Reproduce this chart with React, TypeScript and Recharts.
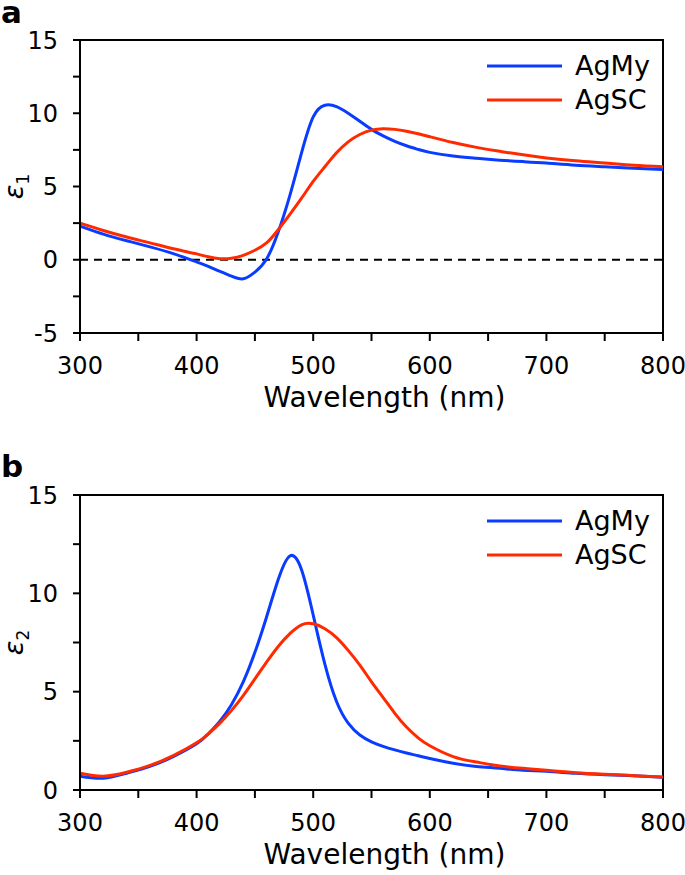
import React from 'react';
import { LineChart, Line, XAxis, YAxis, ReferenceLine, ReferenceArea, Legend } from 'recharts';

// Wavelength grid (nm)
const wavelengths = [300, 320, 340, 360, 380, 400, 410, 420, 430, 440, 450, 460, 470, 480, 490, 500, 510, 520, 530, 540, 550, 560, 570, 580, 590, 600, 620, 640, 660, 680, 700, 725, 750, 775, 800];

// Panel a: real part epsilon_1
const agMyEps1 = [2.3, 1.75, 1.3, 0.88, 0.42, -0.15, -0.45, -0.8, -1.12, -1.3, -0.85, 0.05, 1.9, 4.4, 7.3, 9.75, 10.55, 10.45, 10.0, 9.45, 8.9, 8.45, 8.08, 7.78, 7.53, 7.33, 7.08, 6.93, 6.8, 6.7, 6.6, 6.45, 6.35, 6.25, 6.15];
const agScEps1 = [2.5, 2.0, 1.55, 1.15, 0.75, 0.4, 0.2, 0.07, 0.1, 0.3, 0.65, 1.15, 2.05, 3.1, 4.2, 5.35, 6.35, 7.3, 8.05, 8.55, 8.85, 8.95, 8.9, 8.77, 8.6, 8.4, 8.0, 7.67, 7.4, 7.16, 6.95, 6.75, 6.6, 6.45, 6.35];

// Panel b: imaginary part epsilon_2
const agMyEps2 = [0.7, 0.6, 0.85, 1.2, 1.7, 2.35, 2.85, 3.5, 4.35, 5.5, 7.0, 8.8, 10.7, 11.9, 11.2, 8.9, 6.4, 4.5, 3.4, 2.8, 2.45, 2.22, 2.04, 1.88, 1.74, 1.6, 1.36, 1.2, 1.1, 1.0, 0.95, 0.85, 0.78, 0.72, 0.65];
const agScEps2 = [0.85, 0.7, 0.9, 1.25, 1.75, 2.4, 2.85, 3.4, 4.05, 4.8, 5.65, 6.5, 7.3, 7.95, 8.4, 8.45, 8.2, 7.75, 7.1, 6.35, 5.5, 4.7, 3.9, 3.2, 2.65, 2.25, 1.7, 1.42, 1.22, 1.1, 1.0, 0.88, 0.8, 0.73, 0.66];

const seriesNames = ['AgMy', 'AgSC'];
const xTicks = [300, 350, 400, 450, 500, 550, 600, 650, 700, 750, 800];
const yTicksA = [-5, -2.5, 0, 2.5, 5, 7.5, 10, 12.5, 15];
const yTicksB = [0, 2.5, 5, 7.5, 10, 12.5, 15];
const xTitle = 'Wavelength (nm)';

const BLUE = '#0a3cff';
const RED = '#ff2a00';
const FONT = '"DejaVu Sans", sans-serif';

const dataA = wavelengths.map((wl, i) => ({ wl, agMy: agMyEps1[i], agSc: agScEps1[i] }));
const dataB = wavelengths.map((wl, i) => ({ wl, agMy: agMyEps2[i], agSc: agScEps2[i] }));

function XTick(props: any) {
  const { x, y, payload } = props;
  if (payload.value % 100 !== 0) return <g />;
  return (
    <text x={x} y={y} dy={17} textAnchor="middle" fontFamily={FONT} fontSize={24} fill="#000">
      {payload.value}
    </text>
  );
}

function YTick(props: any) {
  const { x, y, payload } = props;
  if (payload.value % 5 !== 0) return <g />;
  return (
    <text x={x} y={y} dy={8.5} textAnchor="end" fontFamily={FONT} fontSize={24} fill="#000">
      {payload.value}
    </text>
  );
}

function XTitle(props: any) {
  const vb = props.viewBox || { x: 80, y: 333, width: 583, height: 80 };
  const cx = vb.x + vb.width / 2 + 13;
  return (
    <text x={cx} y={vb.y + 74} textAnchor="middle" fontFamily={FONT} fontSize={28} fill="#000">
      {xTitle}
    </text>
  );
}

function YTitle(props: any) {
  const vb = props.viewBox || { x: 0, y: 40, width: 80, height: 293 };
  const cy = vb.y + vb.height / 2;
  const x = 23;
  return (
    <text transform={`rotate(-90 ${x} ${cy})`} x={x} y={cy} textAnchor="middle" fontFamily={FONT} fontSize={27} fill="#000">
      <tspan fontStyle="italic">ε</tspan>
      <tspan fontSize={17} dy={6}>{props.sub}</tspan>
    </text>
  );
}

function LegendBox(props: any) {
  const items = props.payload || [];
  return (
    <div style={{ display: 'flex', flexDirection: 'column' }}>
      {items.map((it: any) => (
        <div key={it.value} style={{ display: 'flex', alignItems: 'center', height: 34 }}>
          <svg width={75} height={6} style={{ display: 'block' }}>
            <line x1={0} x2={75} y1={3} y2={3} stroke={it.color} strokeWidth={3} />
          </svg>
          <span style={{ marginLeft: 13, fontFamily: FONT, fontSize: 27, lineHeight: '34px', color: '#000' }}>
            {it.value}
          </span>
        </div>
      ))}
    </div>
  );
}

function Panel(props: { data: any[]; height: number; bottom: number; xAxisHeight: number; yDomain: [number, number]; yTicks: number[]; sub: string; zeroLine: boolean }) {
  const { data, height, bottom, xAxisHeight, yDomain, yTicks, sub, zeroLine } = props;
  return (
    <LineChart width={685} height={height} data={data} margin={{ top: 40, right: 22, bottom, left: 0 }}>
      <XAxis
        dataKey="wl"
        type="number"
        domain={[300, 800]}
        ticks={xTicks}
        interval={0}
        height={xAxisHeight}
        tickSize={8}
        tickMargin={16}
        axisLine={{ stroke: '#000', strokeWidth: 2 }}
        tickLine={{ stroke: '#000', strokeWidth: 2 }}
        tick={<XTick />}
        label={{ content: (p: any) => <XTitle {...p} /> }}
      />
      <YAxis
        type="number"
        domain={yDomain}
        ticks={yTicks}
        interval={0}
        width={80}
        tickSize={7}
        tickMargin={15}
        axisLine={{ stroke: '#000', strokeWidth: 2 }}
        tickLine={{ stroke: '#000', strokeWidth: 2 }}
        tick={<YTick />}
        label={{ content: (p: any) => <YTitle {...p} sub={sub} /> }}
      />
      <ReferenceArea x1={300} x2={800} y1={yDomain[0]} y2={yDomain[1]} fill="none" fillOpacity={0} stroke="#000" strokeWidth={2} />
      {zeroLine && <ReferenceLine y={0} stroke="#000" strokeWidth={2} strokeDasharray="8 6" />}
      <Legend
        layout="vertical"
        align="center"
        verticalAlign="middle"
        wrapperStyle={{ position: 'absolute', top: 49, left: 487, width: 190, height: 68 }}
        content={(p: any) => <LegendBox {...p} />}
      />
      <Line type="natural" dataKey="agMy" name={seriesNames[0]} stroke={BLUE} strokeWidth={3} dot={false} activeDot={false} isAnimationActive={false} legendType="line" />
      <Line type="natural" dataKey="agSc" name={seriesNames[1]} stroke={RED} strokeWidth={3} dot={false} activeDot={false} isAnimationActive={false} legendType="line" />
    </LineChart>
  );
}

export default function App() {
  return (
    <div style={{ position: 'absolute', left: 0, top: 0, width: 685, height: 875, background: '#fff', overflow: 'hidden' }}>
      <div style={{ position: 'absolute', left: 0, top: 0 }}>
        <Panel data={dataA} height={440} bottom={27} xAxisHeight={80} yDomain={[-5, 15]} yTicks={yTicksA} sub="1" zeroLine={true} />
      </div>
      <div style={{ position: 'absolute', left: 0, top: 455 }}>
        <Panel data={dataB} height={420} bottom={15} xAxisHeight={70} yDomain={[0, 15]} yTicks={yTicksB} sub="2" zeroLine={false} />
      </div>
      <svg style={{ position: 'absolute', left: 0, top: 0, pointerEvents: 'none' }} width={40} height={30}>
        <text x={1} y={23} fontFamily={FONT} fontWeight="bold" fontSize={31} fill="#000">a</text>
      </svg>
      <svg style={{ position: 'absolute', left: 0, top: 450, pointerEvents: 'none' }} width={40} height={32}>
        <text x={1} y={27} fontFamily={FONT} fontWeight="bold" fontSize={31} fill="#000">b</text>
      </svg>
    </div>
  );
}
